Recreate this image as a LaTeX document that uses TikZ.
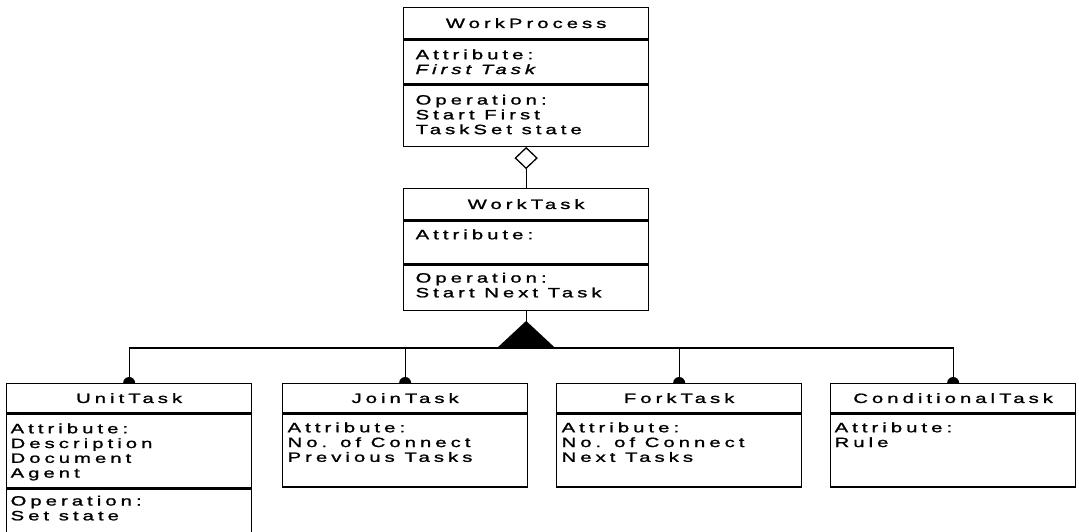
\documentclass[tikz,border=0pt]{standalone}
\usepackage{fontspec}
\setmainfont{Liberation Sans}[FakeStretch=1.5, LetterSpace=30, FakeBold=1.4]
\usetikzlibrary{shapes.geometric}

\begin{document}
\begin{tikzpicture}[x=1pt, y=-1pt,
  line width=1.3pt,
  umlfont/.style={font=\fontsize{13.5pt}{14.8pt}\selectfont},
  part/.style={draw, rectangle, anchor=north west, inner sep=0pt,
    minimum width=245pt, umlfont},
  body/.style={anchor=north west, align=left, inner sep=0pt, umlfont},
  joint/.pic={\fill (-6pt,0pt) arc[start angle=180, end angle=0, radius=6pt] -- cycle;}
]
\fill[white] (0,0) rectangle (1079,531);
\useasboundingbox (0,0) rectangle (1079,531);

% WorkProcess
\node[part, minimum height=31pt] (wp-t) at (403,7) {WorkProcess};
\node[part, minimum height=44pt] (wp-a) at (wp-t.south west) {};
\node[part, minimum height=61pt] (wp-o) at (wp-a.south west) {};
\node[body] (wp-at) at ([shift={(12,9.5)}]wp-a.north west) {Attribute:\\\textit{First Task}};
\node[body] (wp-ot) at ([shift={(12,9.5)}]wp-o.north west) {Operation:\\Start First\\TaskSet state};

% WorkTask
\node[part, minimum height=31pt] (wt-t) at (403,188) {WorkTask};
\node[part, minimum height=43pt] (wt-a) at (wt-t.south west) {};
\node[part, minimum height=45pt] (wt-o) at (wt-a.south west) {};
\node[body] (wt-at) at ([shift={(12,8.5)}]wt-a.north west) {Attribute:};
\node[body] (wt-ot) at ([shift={(12,7.5)}]wt-o.north west) {Operation:\\Start Next Task};

% UnitTask
\node[part, minimum height=29pt] (ut-t) at (6,383) {UnitTask};
\node[part, minimum height=74pt] (ut-a) at (ut-t.south west) {};
\node[part, minimum height=43pt] (ut-o) at (ut-a.south west) {};
\node[body] (ut-at) at ([shift={(4,9.5)}]ut-a.north west) {Attribute:\\Description\\Document\\Agent};
\node[body] (ut-ot) at ([shift={(4,6.5)}]ut-o.north west) {Operation:\\Set state};

% JoinTask
\node[part, minimum height=29pt] (jt-t) at (282,383) {JoinTask};
\node[part, minimum height=73pt] (jt-a) at (jt-t.south west) {};
\node[body] (jt-at) at ([shift={(5,8.5)}]jt-a.north west) {Attribute:\\No. of Connect\\Previous Tasks};

% ForkTask
\node[part, minimum height=29pt] (ft-t) at (556,383) {ForkTask};
\node[part, minimum height=73pt] (ft-a) at (ft-t.south west) {};
\node[body] (ft-at) at ([shift={(5,8.5)}]ft-a.north west) {Attribute:\\No. of Connect\\Next Tasks};

% ConditionalTask
\node[part, minimum height=29pt] (ct-t) at (830,383) {ConditionalTask};
\node[part, minimum height=73pt] (ct-a) at (ct-t.south west) {};
\node[body] (ct-at) at ([shift={(4,8.5)}]ct-a.north west) {Attribute:\\Rule};

% aggregation: WorkProcess holds WorkTasks
\node[draw, diamond, fill=white, minimum width=22pt, minimum height=21pt,
  inner sep=0pt, anchor=north] (agg) at (wp-o.south) {};
\draw (agg.south) -- (wt-t.north);

% generalization of WorkTask into its four kinds
\coordinate (gen) at ([shift={(0,10)}]wt-o.south);
\coordinate (bus) at ([shift={(0,27)}]gen);
\draw (wt-o.south) -- (gen);
\fill (gen) -- ++(-29,27) -- ++(58,0) -- cycle;
\draw (ut-t.north) |- (bus) -| (ct-t.north);
\draw (jt-t.north) -- (jt-t.north |- bus);
\draw (ft-t.north) -- (ft-t.north |- bus);
\pic at (ut-t.north) {joint};
\pic at (jt-t.north) {joint};
\pic at (ft-t.north) {joint};
\pic at (ct-t.north) {joint};
\end{tikzpicture}
\end{document}
